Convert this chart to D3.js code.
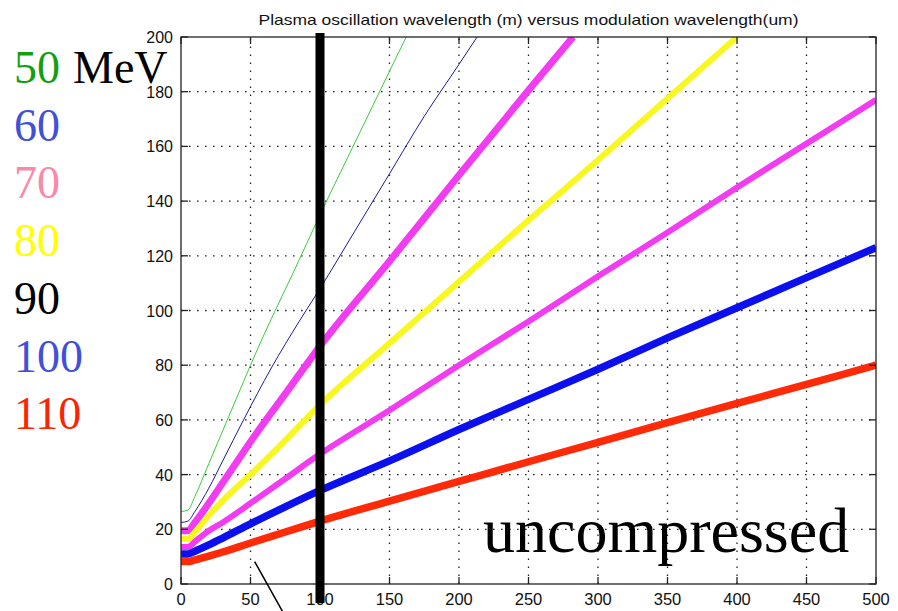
<!DOCTYPE html>
<html>
<head>
<meta charset="utf-8">
<script src="https://cdn.jsdelivr.net/npm/d3@7"></script>
<style>
  body { margin: 0; background: #fff; }
  svg { display: block; }
</style>
</head>
<body>
<svg id="chart" width="898" height="611"></svg>
<script>
// modulation wavelength (um) sample points, per curve
const xGreen   = [0, 5, 10, 20, 30, 40, 50, 65, 80, 100, 120, 140, 162];
const yGreen   = [26.5, 27, 32, 44, 56, 68, 80, 97, 113, 135, 156, 177, 200];
const xNavy    = [0, 5, 10, 20, 30, 45, 65, 85, 100, 125, 150, 175, 200, 213];
const yNavy    = [22.5, 23, 26.5, 35, 45, 60, 79, 96, 108, 129, 150, 171, 190, 200];
const xMag1    = [0, 5, 10, 20, 30, 40, 50, 75, 100, 150, 200, 250, 282];
const yMag1    = [19.5, 19.5, 22.5, 29.5, 37, 44.5, 52, 69.5, 87, 118, 149.5, 180.5, 200];
const xYellow  = [0, 5, 10, 20, 30, 50, 75, 100, 150, 200, 250, 300, 350, 400];
const yYellow  = [16.5, 16.5, 19, 25, 30.5, 40, 52.5, 65.5, 88, 110.5, 133, 155, 177.5, 200];
const xFull    = [0, 5, 10, 20, 30, 50, 75, 100, 150, 200, 250, 300, 350, 400, 450, 500];
const yMag2    = [13.5, 13.5, 15.5, 19.5, 22.5, 29.5, 38.5, 47.5, 63.5, 80, 96, 112.5, 128.5, 145, 161, 177];
const yBlue    = [11, 11, 12, 14.3, 16.8, 22, 28.2, 34.2, 45, 56.5, 67.5, 78.5, 90, 101, 112, 123];
const yRed     = [8.2, 8.2, 8.8, 10.2, 11.7, 15, 19, 23, 30.3, 37.5, 44.7, 51.8, 59, 66, 73, 80];

const xTicks = [0, 50, 100, 150, 200, 250, 300, 350, 400, 450, 500];
const yTicks = [0, 20, 40, 60, 80, 100, 120, 140, 160, 180, 200];
const energies = ["50", "60", "70", "80", "90", "100", "110"];
const energyColors = ["#12a012", "#4050d8", "#fb88a8", "#ffff00", "#000000", "#4050d8", "#ff2200"];
const markerX = 100;   // thick vertical line
const pointer = [[53, 8.2], [73, -10]];

const svg = d3.select("#chart");
const x = d3.scaleLinear().domain([0, 500]).range([181, 876]);
const y = d3.scaleLinear().domain([0, 200]).range([584, 37]);

const series = [
  { xs: xGreen, ys: yGreen, color: "#3ccc3c", w: 1 },
  { xs: xNavy, ys: yNavy, color: "#1c1c96", w: 1 },
  { xs: xMag1, ys: yMag1, color: "#f23cf2", w: 7 },
  { xs: xYellow, ys: yYellow, color: "#f8f820", w: 6 },
  { xs: xFull, ys: yMag2, color: "#f23cf2", w: 6 },
  { xs: xFull, ys: yBlue, color: "#0c10ee", w: 7.5 },
  { xs: xFull, ys: yRed, color: "#ff2a08", w: 7.5 },
];

// grid
const grid = svg.append("g").attr("stroke", "#222").attr("stroke-width", 1.3)
  .attr("stroke-dasharray", "1.6,6.4");
xTicks.slice(1, -1).forEach(t => grid.append("line")
  .attr("x1", x(t)).attr("x2", x(t)).attr("y1", y(0)).attr("y2", y(200)));
yTicks.slice(1, -1).forEach(t => grid.append("line")
  .attr("y1", y(t)).attr("y2", y(t)).attr("x1", x(0)).attr("x2", x(500)));

svg.append("clipPath").attr("id", "plot")
  .append("rect").attr("x", x(0)).attr("y", y(200))
  .attr("width", x(500) - x(0)).attr("height", y(0) - y(200));

const line = d3.line().x(d => x(d[0])).y(d => y(d[1])).curve(d3.curveMonotoneX);
const curves = svg.append("g").attr("clip-path", "url(#plot)");
series.forEach(s => {
  curves.append("path")
    .attr("d", line(s.xs.map((v, i) => [v, s.ys[i]])))
    .attr("fill", "none")
    .attr("stroke", s.color)
    .attr("stroke-width", s.w)
    .attr("stroke-linejoin", "round");
});

// axes box with inward ticks
const tl = 7;
const axis = svg.append("g").attr("stroke", "#222").attr("stroke-width", 1.3);
axis.append("rect").attr("x", x(0)).attr("y", y(200))
  .attr("width", x(500) - x(0)).attr("height", y(0) - y(200)).attr("fill", "none");
xTicks.forEach(t => {
  axis.append("line").attr("x1", x(t)).attr("x2", x(t)).attr("y1", y(0)).attr("y2", y(0) - tl);
  axis.append("line").attr("x1", x(t)).attr("x2", x(t)).attr("y1", y(200)).attr("y2", y(200) + tl);
});
yTicks.forEach(t => {
  axis.append("line").attr("y1", y(t)).attr("y2", y(t)).attr("x1", x(0)).attr("x2", x(0) + tl);
  axis.append("line").attr("y1", y(t)).attr("y2", y(t)).attr("x1", x(500)).attr("x2", x(500) - tl);
});

const labelFont = "'Liberation Sans', Arial, sans-serif";
svg.append("g").selectAll("text").data(xTicks).join("text")
  .attr("x", d => x(d)).attr("y", 605)
  .attr("text-anchor", "middle")
  .attr("font-family", labelFont).attr("font-size", 16.5).attr("fill", "#111")
  .text(d => d);
svg.append("g").selectAll("text").data(yTicks).join("text")
  .attr("x", 173).attr("y", d => y(d) + 6)
  .attr("text-anchor", "end")
  .attr("font-family", labelFont).attr("font-size", 16).attr("fill", "#111")
  .text(d => d);

svg.append("text")
  .attr("x", (x(0) + x(500)) / 2).attr("y", 25)
  .attr("text-anchor", "middle")
  .attr("font-family", labelFont).attr("font-size", 15).attr("fill", "#111")
  .attr("textLength", 540).attr("lengthAdjust", "spacingAndGlyphs")
  .text("Plasma oscillation wavelength (m) versus modulation wavelength(um)");

// thick marker line at 100 um
svg.append("line")
  .attr("x1", x(markerX)).attr("x2", x(markerX))
  .attr("y1", 33).attr("y2", 603)
  .attr("stroke", "#000").attr("stroke-width", 9);

// pointer line
svg.append("line")
  .attr("x1", x(pointer[0][0])).attr("y1", y(pointer[0][1]))
  .attr("x2", x(pointer[1][0])).attr("y2", y(pointer[1][1]))
  .attr("stroke", "#000").attr("stroke-width", 1.5);

// energy legend
const serif = "'Liberation Serif', 'Times New Roman', serif";
const leg = svg.append("g").attr("font-family", serif).attr("font-size", 46);
energies.forEach((e, i) => {
  leg.append("text").attr("x", 14).attr("y", 83 + i * 57.7)
    .attr("fill", energyColors[i]).text(e);
});
leg.append("text").attr("x", 73).attr("y", 83).attr("fill", "#000").text("MeV");

svg.append("text")
  .attr("x", 483).attr("y", 552)
  .attr("font-family", serif).attr("font-size", 64).attr("fill", "#000")
  .text("uncompressed");
</script>
</body>
</html>
